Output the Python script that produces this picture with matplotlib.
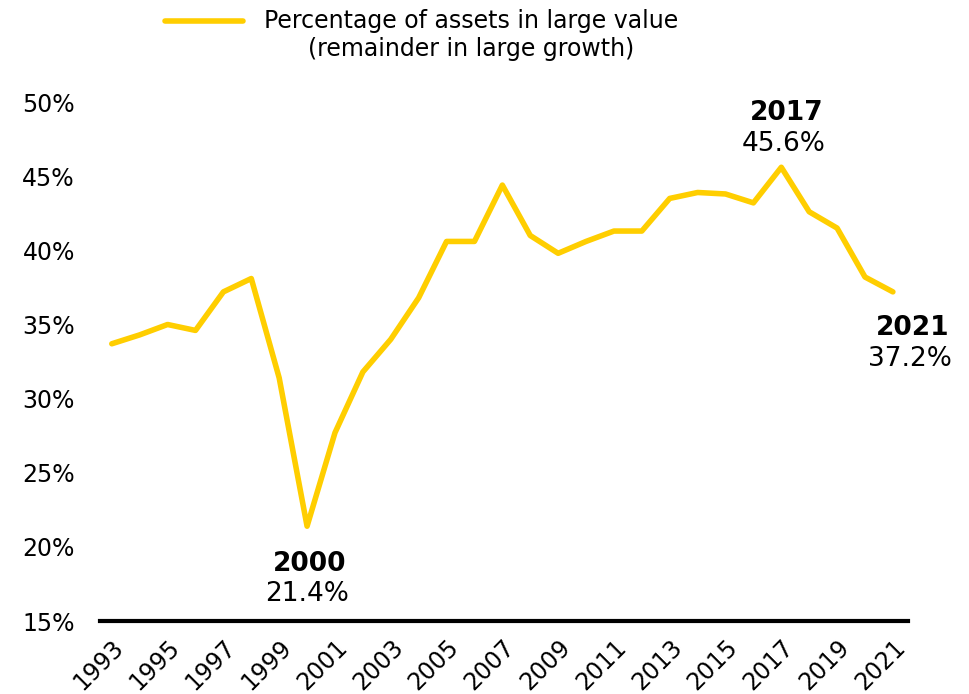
import matplotlib.pyplot as plt
import numpy as np

years = list(range(1993, 2022))
pct_value = [33.7, 34.3, 35.0, 34.6, 37.2, 38.1, 31.4, 21.4, 27.7, 31.8,
             34.0, 36.8, 40.6, 40.6, 44.4, 41.0, 39.8, 40.6, 41.3, 41.3,
             43.5, 43.9, 43.8, 43.2, 45.6, 42.6, 41.5, 38.2, 37.2]
callouts = {2000: 'below', 2017: 'above', 2021: 'below'}

gold = '#FFCE00'
plt.rcParams['font.family'] = ['DejaVu Sans']

fig = plt.figure(figsize=(9.69, 6.94), dpi=100)
ax = fig.add_axes([0.103, 0.105, 0.834, 0.748])

ax.plot(years, pct_value, color=gold, lw=4.0, solid_joinstyle='round',
        solid_capstyle='round', label='Percentage of assets in large value\n(remainder in large growth)')

ax.set_xlim(1992.57, 2021.54)
ax.set_ylim(15, 50)
ax.set_yticks(np.arange(15, 51, 5))
ax.set_yticklabels([f'{v}%' for v in range(15, 51, 5)], fontsize=17)
ax.set_xticks(years[::2])
ax.set_xticklabels([str(y) for y in years[::2]], rotation=45, ha='right',
                   rotation_mode='anchor', fontsize=17)
ax.tick_params(length=0, pad=10)
ax.tick_params(axis='y', pad=18)
for side in ['top', 'right', 'left']:
    ax.spines[side].set_visible(False)
ax.spines['bottom'].set_linewidth(3)
ax.spines['bottom'].set_color('black')

for yr, pos in callouts.items():
    v = pct_value[years.index(yr)]
    if yr == 2021:
        off = (14, -26)
    elif pos == 'below':
        off = (2, -27)
    else:
        off = (4, 39)
    ax.annotate(str(yr), xy=(yr, v), xytext=off, textcoords='offset points',
                ha='center', va='center', fontsize=19, fontweight='bold')
    ax.annotate(f'{v}%', xy=(yr, v), xytext=(off[0] - 2, off[1] - 22),
                textcoords='offset points', ha='center', va='center', fontsize=19)

leg = fig.legend(loc='upper left', bbox_to_anchor=(0.148, 1.018), frameon=False,
                 fontsize=17, handlelength=3.3, handletextpad=0.9)
for t in leg.get_texts():
    t.set_multialignment('center')
hl = leg.get_lines()[0]
hl.set_linewidth(4.0)
# put the legend key level with the first text line
hl.set_ydata(np.asarray(hl.get_ydata()) + 11)

fig.savefig('out.png', dpi=100)
